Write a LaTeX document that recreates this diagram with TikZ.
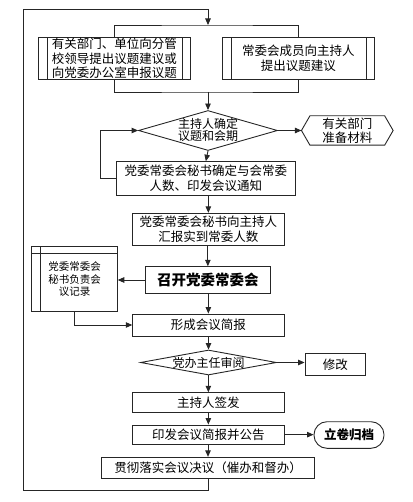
\documentclass[tikz,border=0pt]{standalone}
\usepackage{fontspec}
\newfontfamily\cjk{Noto Sans CJK SC}
\usetikzlibrary{arrows.meta,shapes.geometric}
\begin{document}
\begin{tikzpicture}[x=1pt,y=-1pt,
  line/.style={draw=black!85,line width=0.9pt},
  arr/.style={line,-{Triangle[length=6.5pt,width=5.5pt]}},
  box/.style={line,rectangle,inner sep=0pt,align=center,font=\cjk\fontsize{12.5}{14.5}\selectfont},
  dia/.style={line,diamond,inner sep=0pt,align=center,font=\cjk\fontsize{12}{12.5}\selectfont},
  plain/.style={rectangle,inner sep=0pt,align=center,font=\cjk\fontsize{12.5}{14.5}\selectfont}]
\useasboundingbox (0,0) rectangle (412,502);
% nodes
\node[box,minimum width=151.5pt,minimum height=41.6pt] (b1) at (114.25,58.5) {有关部门、单位向分管\\校领导提出议题建议或\\向党委办公室申报议题};
\node[box,minimum width=151.3pt,minimum height=41.6pt] (b2) at (298.35,58.5) {常委会成员向主持人\\提出议题建议};
\node[dia,minimum width=139pt,minimum height=40pt] (d1) at (208,130.5) {};
\node[plain,font=\cjk\fontsize{12}{12}\selectfont] at (208,130) {主持人确定\\议题和会期};
\node[plain,minimum width=91.3pt,minimum height=29pt] (hx) at (347.3,130.5) {有关部门\\准备材料};
\node[box,minimum width=178.3pt,minimum height=33.3pt] (b3) at (205.85,178.35) {党委常委会秘书确定与会常委\\人数、印发会议通知};
\node[box,minimum width=151.3pt,minimum height=31.7pt] (b4) at (208.35,229.15) {党委常委会秘书向主持人\\汇报实到常委人数};
\node[box,minimum width=125.7pt,minimum height=26.6pt,font=\cjk\bfseries\fontsize{14.5}{16}\selectfont] (b5) at (207.85,280) {召开党委常委会};
\node[box,minimum width=85.6pt,minimum height=65pt,font=\cjk\fontsize{10.5}{12.8}\selectfont] (rec) at (74.5,279.2) {党委常委会\\秘书负责会\\议记录};
\node[box,minimum width=151.3pt,minimum height=22pt] (b6) at (208.35,325) {形成会议简报};
\node[dia,minimum width=136pt,minimum height=25pt] (d2) at (208.5,362.5) {};
\node[plain,font=\cjk\fontsize{12}{12}\selectfont] at (208.5,362.5) {党办主任审阅};
\node[box,minimum width=60.7pt,minimum height=22.4pt] (b7) at (335.35,364.5) {修改};
\node[box,minimum width=151.3pt,minimum height=19.6pt] (b8) at (208.35,402.5) {主持人签发};
\node[box,minimum width=151.3pt,minimum height=19.3pt] (b9) at (208.35,434.65) {印发会议简报并公告};
\node[box,rounded corners=13pt,minimum width=70pt,minimum height=26.6pt,font=\cjk\bfseries\fontsize{12.5}{14.5}\selectfont] (st) at (349,435) {立卷归档};
\node[box,minimum width=212.6pt,minimum height=21pt] (b10) at (208,467.8) {贯彻落实会议决议（催办和督办）};
% decorations of shapes
\draw[line] ([xshift=9pt]b1.north west) -- ([xshift=9pt]b1.south west);
\draw[line] ([xshift=-8pt]b1.north east) -- ([xshift=-8pt]b1.south east);
\draw[line] ([xshift=9pt]b2.north west) -- ([xshift=9pt]b2.south west);
\draw[line] ([xshift=-8.5pt]b2.north east) -- ([xshift=-8.5pt]b2.south east);
\draw[line] (hx.west) -- ([xshift=8.5pt]hx.north west) -- ([xshift=-8.5pt]hx.north east) -- (hx.east) -- ([xshift=-8.5pt]hx.south east) -- ([xshift=8.5pt]hx.south west) -- cycle;
\draw[line] ([xshift=9pt]rec.north west) -- ([xshift=9pt]rec.south west);
\draw[line] ([yshift=-7.3pt]rec.north west) -- ([yshift=-7.3pt]rec.north east);
% coordinates
\coordinate (topm) at (208,25);
\coordinate (botm) at (208,92);
\coordinate (lp1) at (208,490.7);
\coordinate (lp2) at (23,490.7);
\coordinate (lp3) at (23,9.5);
\coordinate (lp4) at (208,9.5);
\coordinate (lb) at (100,178.35);
% connectors
\draw[line] (b1.north) |- (topm) -| (b2.north);
\draw[line] (b1.south) |- (botm) -| (b2.south);
\draw[arr] (botm) -- (d1.north);
\draw[arr] (d1.east) -- (hx.west);
\draw[arr] (d1.south) -- (b3.north);
\draw[arr] (b3.west) -- (lb) |- (d1.west);
\draw[arr] (b3.south -| b4.north) -- (b4.north);
\draw[arr] (b4.south -| b5.north) -- (b5.north);
\draw[arr] (b5.west) -- (b5.west -| rec.east);
\draw[arr] (rec.south) |- (b6.west);
\draw[arr] (b5.south -| b6.north) -- (b6.north);
\draw[arr] (b6.south -| d2.north) -- (d2.north);
\draw[arr] (d2.east) -- (d2.east -| b7.west);
\draw[arr] (d2.south -| b8.north) -- (b8.north);
\draw[arr] (b8.south) -- (b9.north);
\draw[arr] (b9.east) -- (b9.east -| st.west);
\draw[arr] (b9.south -| b10.north) -- (b10.north);
\draw[arr] (b10.south) -- (lp1) -- (lp2) -- (lp3) -- (lp4) -- (topm);
\end{tikzpicture}
\end{document}
